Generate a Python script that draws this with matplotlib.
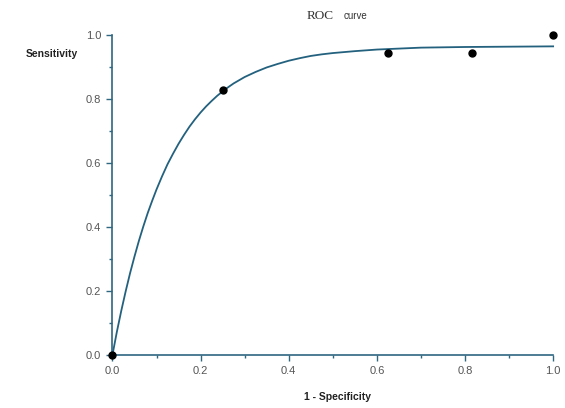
import matplotlib
matplotlib.use("Agg")
import matplotlib.pyplot as plt
from matplotlib.ticker import MultipleLocator

# observed ROC points
fpr_pts = [0.0, 0.25, 0.626, 0.816, 1.0]
tpr_pts = [0.0, 0.83, 0.944, 0.944, 1.0]

# fitted curve
curve_x = [0.0, 0.01, 0.02, 0.03, 0.04, 0.05, 0.06, 0.07, 0.08, 0.09, 0.10,
           0.1125, 0.125, 0.1375, 0.15, 0.1625, 0.175, 0.1875, 0.20, 0.2125,
           0.225, 0.2375, 0.25, 0.2625, 0.275, 0.2875, 0.30, 0.325, 0.35,
           0.375, 0.40, 0.425, 0.45, 0.475, 0.50, 0.55, 0.60, 0.65, 0.70,
           0.75, 0.80, 0.90, 1.00]
curve_y = [0.0, 0.072, 0.138, 0.199, 0.256, 0.308, 0.357, 0.402, 0.444, 0.482, 0.518,
           0.559, 0.597, 0.630, 0.661, 0.689, 0.715, 0.738, 0.759, 0.778,
           0.795, 0.811, 0.825, 0.838, 0.850, 0.860, 0.870, 0.886, 0.900,
           0.911, 0.921, 0.929, 0.936, 0.941, 0.945, 0.951, 0.956, 0.959, 0.962,
           0.963, 0.964, 0.965, 0.966]

ticks = [0.0, 0.2, 0.4, 0.6, 0.8, 1.0]
axis_col = "#2f6680"

fig = plt.figure(figsize=(5.65, 4.08), dpi=100)
ax = fig.add_axes([0.199, 0.130, 0.780, 0.783])

ax.plot(curve_x, curve_y, color="#23617e", lw=1.3, clip_on=False, zorder=2)
ax.plot(fpr_pts, tpr_pts, "o", color="black", ms=5, clip_on=False, zorder=3)

ax.set_xlim(0, 1)
ax.set_ylim(0, 1)
ax.set_xticks(ticks)
ax.set_yticks(ticks)
ax.set_xticklabels([f"{t:.1f}" for t in ticks])
ax.set_yticklabels([f"{t:.1f}" for t in ticks])
ax.xaxis.set_minor_locator(MultipleLocator(0.1))
ax.yaxis.set_minor_locator(MultipleLocator(0.1))

for s in ["top", "right"]:
    ax.spines[s].set_visible(False)
for s in ["left", "bottom"]:
    ax.spines[s].set_color(axis_col)
    ax.spines[s].set_linewidth(1.2)

ax.tick_params(which="major", direction="out", length=4, width=1, color=axis_col,
               labelsize=8, labelcolor="#555555", pad=4)
ax.tick_params(which="minor", direction="out", length=2, width=1, color=axis_col)
for lab in ax.get_xticklabels() + ax.get_yticklabels():
    lab.set_family("Liberation Sans")

fig.text(0.045, 0.868, "Sensitivity", fontsize=7.5, fontweight="bold",
         family="Liberation Sans", color="#222222", va="center", ha="left")
fig.text(0.597, 0.028, "1 - Specificity", fontsize=7.5, fontweight="bold",
         family="Liberation Sans", color="#222222", va="center", ha="center")

# title: "ROC" in serif, "curve" smaller
fig.text(0.590, 0.962, "ROC", fontsize=9.5, family="Liberation Serif",
         color="#333333", ha="right", va="center")
fig.text(0.608, 0.962, "curve", fontsize=7, family="Liberation Sans",
         color="#333333", ha="left", va="center")

plt.savefig("out.png", dpi=100)
